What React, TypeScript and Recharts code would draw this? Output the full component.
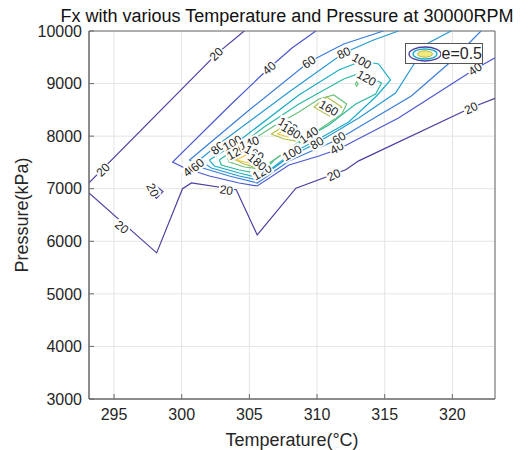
import React from "react";
import {
  ComposedChart,
  Line,
  Scatter,
  XAxis,
  YAxis,
  CartesianGrid,
  ReferenceArea,
  Legend,
} from "recharts";

type Pt = [number, number];

// axes
const temperatureTicks = [295, 300, 305, 310, 315, 320];
const pressureTicks = [3000, 4000, 5000, 6000, 7000, 8000, 9000, 10000];

// contour lines, [temperature, pressure]
const c20Upper: Pt[] = [[293.15, 7110], [302.56, 9560], [304.62, 10000]];
const c20Lower: Pt[] = [
  [293.15, 6920], [298.15, 5780], [300.06, 7000], [300.72, 7110], [304.03, 6980],
  [305.58, 6120], [308.44, 7010], [312.12, 7360], [313.08, 7530], [321.38, 8540], [323.15, 8720],
];
const c20Island: Pt[] = [[297.52, 7005], [297.89, 7100], [298.61, 6945], [298.13, 6815]];
const c40: Pt[] = [
  [309.91, 10000], [308.15, 9677], [306.46, 9296], [303.52, 8574], [299.33, 7508],
  [300.21, 7394], [302.05, 7242], [304.25, 7109], [305.58, 7052], [307.93, 7451],
  [310.14, 7622], [311.61, 7756], [316.02, 8345], [321.68, 9277], [323.15, 9490],
];
const c60: Pt[] = [
  [314.91, 10000], [311.97, 9753], [309.4, 9410], [304.99, 8497], [300.58, 7546],
  [301.31, 7413], [303.52, 7242], [305.58, 7109], [307.93, 7527], [311.61, 7946],
  [316.97, 8764], [319.69, 9372], [322.12, 10000],
];
const c80: Pt[] = [
  [316.02, 10000], [314.18, 9829], [311.97, 9582], [307.93, 8840], [302.56, 7813],
  [301.31, 7546], [302.19, 7394], [304.25, 7242], [305.58, 7166], [307.93, 7604],
  [309.99, 7870], [313.08, 8345], [315.8, 8821], [317.12, 9353], [318.22, 9772], [319.91, 10000],
];
const c100: Pt[] = [
  [302.05, 7546], [304.03, 7870], [308.66, 8783], [311.61, 9258], [313.3, 9429],
  [314.55, 9372], [315.43, 9068], [314.4, 8764], [312.34, 8269], [309.99, 7927],
  [308.15, 7680], [305.72, 7204], [304.25, 7299], [302.41, 7432],
];
const c120: Pt[] = [
  [302.78, 7546], [304.25, 7813], [306.09, 8174], [308.66, 8611], [311.97, 9087],
  [313.22, 9201], [314.77, 9011], [314.33, 8802], [312.86, 8611], [310.87, 8212],
  [308.66, 7889], [306.83, 7546], [305.87, 7280], [304.25, 7356], [302.93, 7451],
];
const c140: Pt[] = [
  [303.37, 7584], [304.84, 7870], [306.83, 8193], [308.66, 8459], [310.14, 8707],
  [311.24, 8783], [312.19, 8611], [311.83, 8421], [310.87, 8250], [309.55, 8022],
  [307.93, 7737], [306.46, 7489], [305.87, 7375], [304.62, 7413], [303.52, 7508],
];
const c140Dot: Pt[] = [[312.82, 8992], [312.93, 9035], [313.04, 8992], [312.93, 8950]];
const c160Low: Pt[] = [[303.52, 7604], [304.99, 7775], [306.02, 7584], [305.58, 7394], [304.62, 7470]];
const c160Mid: Pt[] = [[306.61, 8041], [307.71, 8212], [308.81, 8060], [308.44, 7908], [307.56, 7946]];
const c160High: Pt[] = [[309.77, 8554], [310.72, 8745], [311.83, 8554], [310.94, 8383]];
const c180Low: Pt[] = [[304.03, 7546], [305.06, 7680], [305.72, 7470], [304.99, 7489]];
const c180Mid: Pt[] = [[307.05, 8041], [307.93, 8155], [308.52, 8041], [307.86, 7984]];

const contours: { level: number; pts: Pt[]; closed?: boolean }[] = [
  { level: 20, pts: c20Upper },
  { level: 20, pts: c20Lower },
  { level: 20, pts: c20Island, closed: true },
  { level: 40, pts: c40 },
  { level: 60, pts: c60 },
  { level: 80, pts: c80 },
  { level: 100, pts: c100, closed: true },
  { level: 120, pts: c120, closed: true },
  { level: 140, pts: c140, closed: true },
  { level: 140, pts: c140Dot, closed: true },
  { level: 160, pts: c160Low, closed: true },
  { level: 160, pts: c160Mid, closed: true },
  { level: 160, pts: c160High, closed: true },
  { level: 180, pts: c180Low, closed: true },
  { level: 180, pts: c180Mid, closed: true },
];

// clabel texts and where they sit
const labelText = [
  "20", "20", "20", "20", "20", "20", "20",
  "40", "40", "40", "40", "60", "60", "60",
  "80", "80", "80", "100", "100", "100", "120", "120", "120",
  "140", "140", "160", "160", "160", "180", "180",
];
const labelAt: Pt[] = [
  [294.18, 7360], [302.56, 9560], [295.58, 6272], [297.86, 6976], [303.3, 6976], [311.24, 7261], [321.38, 8535],
  [306.46, 9296], [321.68, 9277], [311.46, 7775], [300.58, 7356], [311.61, 7965], [309.4, 9410], [301.16, 7451],
  [311.97, 9582], [309.99, 7870], [302.64, 7775], [313.3, 9429], [308.15, 7680], [303.74, 7870],
  [313.66, 9106], [304.03, 7699], [305.94, 7318],
  [309.4, 8022], [304.99, 7870], [310.87, 8535], [305.36, 7680], [307.85, 8212], [305.58, 7508], [308.07, 8098],
];
const labelAngle = [
  -45, -45, 40, 65, 8, -25, -25,
  -42, -35, -30, -40, -30, -35, -40,
  -25, -30, -40, 30, -30, -30, 30, -30, -30,
  -35, -20, 30, 30, 30, 40, 30,
];

const levelColors: Record<number, string> = {
  20: "#4a40a2",
  40: "#4a58d0",
  60: "#3a7ddb",
  80: "#2799d4",
  100: "#1cadc6",
  120: "#2bb8a4",
  140: "#6cc17c",
  160: "#b3bd4a",
  180: "#efc83c",
};

const FONT = "'Liberation Sans', Arial, Helvetica, sans-serif";
const INK = "#262626";

const labelData = labelAt.map(([x, y], i) => ({ x, y, text: labelText[i], angle: labelAngle[i] }));

const ContourLabel = (props: any) => {
  const { cx, cy, payload } = props;
  if (cx == null || cy == null) return null;
  const w = payload.text.length * 6.6 + 2;
  return (
    <g transform={`translate(${cx},${cy}) rotate(${payload.angle})`}>
      <rect x={-w / 2} y={-6} width={w} height={12} fill="#fff" />
      <text x={0} y={0} dy="0.35em" textAnchor="middle" fontSize={12} fontFamily={FONT} fill="#222">
        {payload.text}
      </text>
    </g>
  );
};

const LegendBox = () => (
  <div
    style={{
      width: 76,
      height: 19,
      border: "1px solid #555",
      background: "#fff",
      display: "flex",
      alignItems: "center",
      fontFamily: FONT,
      fontSize: 16,
      color: INK,
      boxSizing: "content-box",
    }}
  >
    <svg width={36} height={18} style={{ marginLeft: 1 }}>
      <ellipse cx={18} cy={9} rx={16} ry={7} fill="#fff" stroke={levelColors[20]} strokeWidth={1.3} />
      <ellipse cx={18} cy={9} rx={12} ry={5} fill="#fff" stroke={levelColors[100]} strokeWidth={1.3} />
      <ellipse cx={18} cy={9} rx={7.5} ry={3.2} fill="#f2ea7a" stroke={levelColors[160]} strokeWidth={1} />
    </svg>
    <span style={{ marginLeft: 1 }}>e=0.5</span>
  </div>
);

export default function App() {
  return (
    <div style={{ position: "relative", width: 513, height: 442, fontFamily: FONT }}>
      <ComposedChart width={513} height={442} margin={{ top: 23, right: 26, bottom: 11, left: 36 }}>
        <CartesianGrid stroke="#e4e4e4" />
        <XAxis
          type="number"
          dataKey="x"
          domain={[293.15, 323.15]}
          ticks={temperatureTicks}
          allowDataOverflow
          height={40}
          tickSize={-5}
          tickMargin={15}
          stroke="#6b6b6b"
          tick={{ fill: INK, fontSize: 16, fontFamily: FONT }}
          label={{ value: "Temperature(°C)", position: "bottom", offset: -6, fill: INK, fontSize: 18, fontFamily: FONT }}
        />
        <YAxis
          type="number"
          domain={[3000, 10000]}
          ticks={pressureTicks}
          allowDataOverflow
          width={45}
          tickSize={-5}
          tickMargin={12}
          stroke="#6b6b6b"
          tick={{ fill: INK, fontSize: 16, fontFamily: FONT }}
          label={{
            value: "Pressure(kPa)",
            angle: -90,
            position: "insideLeft",
            offset: -22,
            fill: INK,
            fontSize: 18,
            fontFamily: FONT,
            style: { textAnchor: "middle" },
          }}
        />
        <ReferenceArea
          x1={293.15}
          x2={323.15}
          y1={3000}
          y2={10000}
          fill="none"
          stroke="#6b6b6b"
          ifOverflow="visible"
        />
        {contours.map((c, i) => {
          const pts = c.closed ? [...c.pts, c.pts[0]] : c.pts;
          return (
            <Line
              key={i}
              data={pts.map(([x, y]) => ({ x, y }))}
              dataKey="y"
              type="linear"
              stroke={levelColors[c.level]}
              strokeWidth={1.2}
              dot={false}
              activeDot={false}
              legendType="none"
              isAnimationActive={false}
            />
          );
        })}
        <Scatter data={labelData} dataKey="y" shape={ContourLabel} legendType="none" isAnimationActive={false} />
        <Legend
          layout="horizontal"
          verticalAlign="middle"
          align="center"
          content={() => <LegendBox />}
          wrapperStyle={{ position: "absolute", top: 35, left: 397, width: "auto" }}
        />
      </ComposedChart>
      <div
        style={{
          position: "absolute",
          top: 0,
          left: 0,
          width: 558,
          textAlign: "center",
          fontSize: 18,
          lineHeight: "17px",
          color: "#111",
          whiteSpace: "nowrap",
          pointerEvents: "none",
        }}
      >
        Fx with various Temperature and Pressure at 30000RPM
      </div>
    </div>
  );
}
